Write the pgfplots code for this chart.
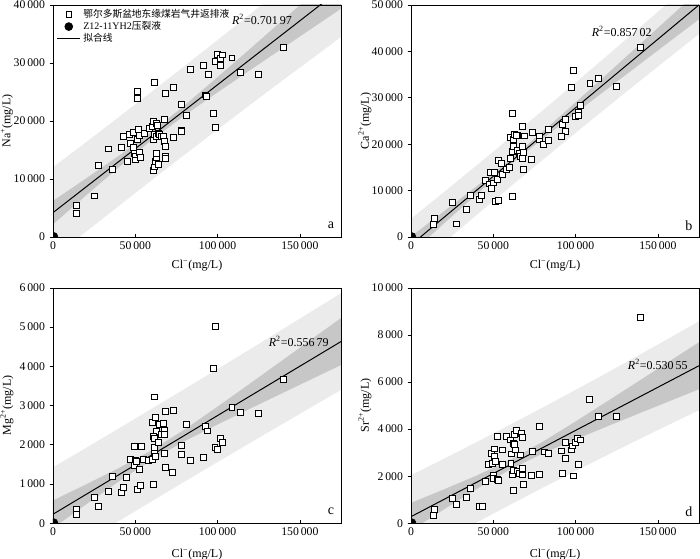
\documentclass[border=0pt]{standalone}
\usepackage{pgfplots}
\pgfplotsset{compat=1.18}
\usepackage{fontspec}
\setmainfont{Liberation Serif}
\newfontfamily\cjk{Noto Sans CJK SC}
\definecolor{lightband}{gray}{0.92}
\definecolor{darkband}{gray}{0.78}

\pgfplotsset{
 panel/.style={
  scale only axis, width=216pt,
  xmin=0, xmax=175000, xtick={0,50000,100000,150000},
  scaled ticks=false,
  /pgf/number format/fixed,
  /pgf/number format/precision=0,
  /pgf/number format/1000 sep={\,},
  /pgf/number format/assume math mode=true,
  tick label style={font=\fontsize{8.8}{10}\selectfont},
  label style={font=\fontsize{9}{11}\selectfont},
  xtick align=inside, ytick align=outside,
  xtick pos=bottom, ytick pos=left,
  major tick length=2.5pt,
  tick style={black, line width=0.5pt},
  axis line style={line width=0.6pt},
  axis on top,
  clip marker paths=true,
  xlabel={Cl\textsuperscript{−}(mg/L)},
  xlabel style={at={(axis description cs:0.5,-0.125)}, anchor=center},
  ylabel style={at={(axis description cs:-0.16,0.5)}, anchor=center},
 },
 sq/.style={only marks, mark=square*, mark size=2.2pt, mark options={fill=white, draw=black, line width=0.5pt}},
 dot/.style={only marks, mark=*, mark size=3pt, black},
 fitline/.style={black, line width=0.75pt},
}
\tikzset{
 lab/.style={font=\fontsize{9}{11}\selectfont},
 plet/.style={font=\fontsize{10.5}{12}\selectfont},
}
\newcommand\cj[1]{{\cjk\fontsize{7.3}{8}\selectfont #1}}

\begin{document}
\begin{tikzpicture}
\path[use as bounding box] (0,0) rectangle (525pt,419.25pt);

% ---------------- a ----------------
\begin{axis}[panel, at={(39.75pt,241.5pt)}, anchor=south west, height=174pt,
  ymin=0, ymax=40000, ytick={0,10000,20000,30000,40000},
  ylabel={Na\textsuperscript{+}(mg/L)},
  legend style={at={(axis description cs:0.008,1.0)}, anchor=north west, draw=none, fill=none,
    font=\fontsize{7.5}{8}\selectfont, row sep=-2.5pt, inner sep=1pt},
  legend cell align=left]
\addplot[fill=lightband, draw=none, forget plot] coordinates {(0,12030) (20000,16320) (40000,20680) (60000,25060) (80000,29490) (100000,33960) (120000,38480) (140000,43040) (160000,47650) (175000,51098) (175000,34478) (160000,31310) (140000,27100) (120000,22840) (100000,18540) (80000,14190) (60000,9800) (40000,5360) (20000,900) (0,-3630)} -- cycle;
\addplot[fill=darkband, draw=none, forget plot] coordinates {(0,6215) (20000,10078) (40000,14003) (60000,18136) (80000,22706) (100000,27562) (120000,32508) (140000,37484) (160000,42473) (175000,46220) (175000,39356) (160000,36487) (140000,32656) (120000,28812) (100000,24938) (80000,20974) (60000,16724) (40000,12037) (20000,7142) (0,2185)} -- cycle;
\addplot[fitline, forget plot] coordinates {(0,4200) (175000,42788)};
\addplot[sq] table {
x y
14000 5500
14200 4100
25300 7100
27500 12300
33800 15200
36300 11600
41700 15400
42900 17400
45000 13000
46200 17700
47000 16200
48800 15500
48800 18100
49200 14400
49800 13900
50200 13300
51000 16800
51200 25100
51200 23900
52100 18500
52700 14600
52700 17600
53000 13800
55300 17900
58300 18700
60600 19100
60900 20000
61200 11500
61200 16900
61400 26700
61400 17700
61800 12100
62400 13000
62600 13700
62800 19600
62800 17300
63000 14400
63200 19200
64000 17800
64200 12500
64600 17700
66000 17400
67300 17300
67900 16500
67900 20300
68200 14000
68200 13600
68500 15600
68500 24800
72900 25800
73100 17200
77900 18400
78000 18200
78200 22900
80800 21000
83400 28900
91500 29600
92800 24500
93200 24300
94200 28100
97600 21300
98400 30300
98800 18900
99600 31500
101700 29600
101900 30800
102900 31400
108700 30900
114000 28400
125000 28000
139700 32700
};
\addlegendentry{\cj{鄂尔多斯盆地东缘煤岩气井返排液}}
\addplot[dot] coordinates {(500,100)};
\addlegendentry{Z12-11YH2\cj{压裂液}}
\addlegendimage{fitline}
\addlegendentry{\cj{拟合线}}
\node[lab] at (axis cs:127000,37500) {\textit{R}\textsuperscript{2}=0.701\,97};
\node[plet] at (rel axis cs:0.965,0.05) {a};
\end{axis}

% ---------------- b ----------------
\begin{axis}[panel, at={(308.25pt,241.5pt)}, anchor=south west, height=174pt,
  ymin=0, ymax=50000, ytick={0,10000,20000,30000,40000,50000},
  ylabel={Ca\textsuperscript{2+}(mg/L)}]
\addplot[fill=lightband, draw=none, forget plot] coordinates {(0,3927) (20000,9665) (40000,15465) (60000,21331) (80000,27264) (100000,33265) (120000,39329) (140000,45452) (160000,51626) (175000,56287) (175000,43737) (160000,39534) (140000,33888) (120000,28191) (100000,22435) (80000,16616) (60000,10729) (40000,4775) (20000,-1245) (0,-7327)} -- cycle;
\addplot[fill=darkband, draw=none, forget plot] coordinates {(0,104) (20000,5517) (40000,10983) (60000,16635) (80000,22695) (100000,29015) (120000,35412) (140000,41834) (160000,48267) (175000,53095) (175000,46929) (160000,42893) (140000,37506) (120000,32108) (100000,26685) (80000,21185) (60000,15425) (40000,9257) (20000,2903) (0,-3504)} -- cycle;
\addplot[fitline] coordinates {(0,-1700) (175000,50012)};
\addplot[sq] table {
x y
14000 4060
13800 2760
25100 7460
27300 2830
33600 5940
36300 8910
41700 8040
42700 9060
45000 12240
47600 11460
48400 13850
48800 10500
50000 11670
50600 13850
51400 7670
52900 7890
53300 16520
52700 12390
55700 13480
55100 15940
58100 14570
60000 14930
61400 8760
60600 17020
61800 18410
60600 21460
62000 21090
62800 22170
62400 19630
64600 21960
64800 18760
65600 18040
66400 17390
67400 19630
67600 16890
68000 18330
68200 14500
68800 21800
72900 16740
73500 22540
78200 20940
80600 19930
83200 20800
91500 21590
93700 22760
61400 26740
67600 23760
83400 23260
64200 21890
77900 21800
91300 21670
92200 24200
93600 25400
99600 25940
101500 26800
101600 26300
102900 28330
97400 32240
98800 35870
108700 33200
114000 34130
125000 32390
139500 40870
};
\addplot[dot] coordinates {(500,100)};
\node[lab] at (axis cs:128000,44300) {\textit{R}\textsuperscript{2}=0.857\,02};
\node[plet] at (rel axis cs:0.965,0.05) {b};
\end{axis}

% ---------------- c ----------------
\begin{axis}[panel, at={(39.75pt,26.8pt)}, anchor=south west, height=176.5pt,
  ymin=0, ymax=6000, ytick={0,1000,2000,3000,4000,5000,6000},
  ylabel={Mg\textsuperscript{2+}(mg/L)},
  xlabel style={at={(axis description cs:0.5,-0.132)}, anchor=center}]
\addplot[fill=lightband, draw=none, forget plot] coordinates {(0,1427) (20000,1921) (40000,2418) (60000,2920) (80000,3424) (100000,3932) (120000,4443) (140000,4958) (160000,5477) (175000,5867) (175000,3399) (160000,3035) (140000,2546) (120000,2055) (100000,1560) (80000,1062) (60000,560) (40000,54) (20000,-455) (0,-967)} -- cycle;
\addplot[fill=darkband, draw=none, forget plot] coordinates {(0,582) (20000,989) (40000,1406) (60000,1861) (80000,2392) (100000,2974) (120000,3571) (140000,4173) (160000,4779) (175000,5233) (175000,4033) (160000,3733) (140000,3331) (120000,2927) (100000,2518) (80000,2094) (60000,1619) (40000,1066) (20000,477) (0,-122)} -- cycle;
\addplot[fitline] coordinates {(0,230) (175000,4633)};
\addplot[sq] table {
x y
14200 357
14000 230
25100 653
27500 441
33600 806
36300 1207
41700 781
42900 926
44700 1173
49200 1972
53600 1972
47200 1640
49800 1615
49600 1487
50800 1589
51200 875
52900 959
52700 1378
54900 1633
58100 1615
61200 985
60600 1640
61500 1811
61800 1929
62400 1699
60600 2566
62200 2704
63000 2337
61200 2209
61800 2176
64200 2066
64800 2533
66000 2278
67000 2551
67600 2362
67700 2278
67700 1786
68200 1436
68500 2857
72500 1301
73300 2873
78000 1980
77900 1750
80800 2515
83400 1597
91500 1691
92500 2474
94000 2355
98300 1929
99800 1888
101900 2176
102900 2056
61400 3222
97600 3954
98800 5025
108700 2949
114000 2822
124700 2806
139700 3673
};
\addplot[dot] coordinates {(500,15)};
\node[lab] at (axis cs:149300,4633) {\textit{R}\textsuperscript{2}=0.556\,79};
\node[plet] at (rel axis cs:0.965,0.05) {c};
\end{axis}

% ---------------- d ----------------
\begin{axis}[panel, at={(308.25pt,26.8pt)}, anchor=south west, height=176.5pt,
  ymin=0, ymax=10000, ytick={0,2000,4000,6000,8000,10000},
  ylabel={Sr\textsuperscript{2+}(mg/L)},
  xlabel style={at={(axis description cs:0.5,-0.132)}, anchor=center}]
\addplot[fill=lightband, draw=none, forget plot] coordinates {(0,2042) (20000,2742) (40000,3454) (60000,4179) (80000,4917) (100000,5667) (120000,6429) (140000,7203) (160000,7988) (175000,8584) (175000,4804) (160000,4300) (140000,3619) (120000,2927) (100000,2223) (80000,1507) (60000,779) (40000,38) (20000,-716) (0,-1482)} -- cycle;
\addplot[fill=darkband, draw=none, forget plot] coordinates {(0,866) (20000,1439) (40000,2030) (60000,2681) (80000,3461) (100000,4326) (120000,5216) (140000,6114) (160000,7016) (175000,7694) (175000,5694) (160000,5272) (140000,4708) (120000,4140) (100000,3564) (80000,2963) (60000,2277) (40000,1462) (20000,587) (0,-306)} -- cycle;
\addplot[fitline] coordinates {(0,280) (175000,6694)};
\addplot[sq] table {
x y
14000 596
13800 340
25100 1064
27300 821
33600 1089
36300 1489
41700 706
43100 706
45000 1770
47000 2493
48800 2961
49600 2553
49800 2055
50800 3161
50800 2834
51200 2621
50200 1927
52600 1872
53300 1813
52600 3685
55300 3119
55700 2510
58100 3685
60300 3544
60700 2553
60900 2949
61400 2085
62000 1387
62000 3404
62600 3770
63000 3361
63600 3119
62200 2255
64200 3940
64800 2225
65800 2127
67200 3830
67600 3642
66600 2906
67600 2323
67800 2055
68500 1672
73500 3047
72900 2042
77800 2085
78200 4110
80900 3034
83400 2961
91300 3076
92200 2110
93600 2766
94000 3447
97400 3119
98200 3289
98800 2013
99600 3430
101300 3600
101900 2493
103100 3544
108600 5276
114000 4536
124900 4536
139500 8750
};
\addplot[dot] coordinates {(500,25)};
\node[lab] at (axis cs:150000,6736) {\textit{R}\textsuperscript{2}=0.530\,55};
\node[plet] at (rel axis cs:0.965,0.05) {d};
\end{axis}
\end{tikzpicture}
\end{document}
